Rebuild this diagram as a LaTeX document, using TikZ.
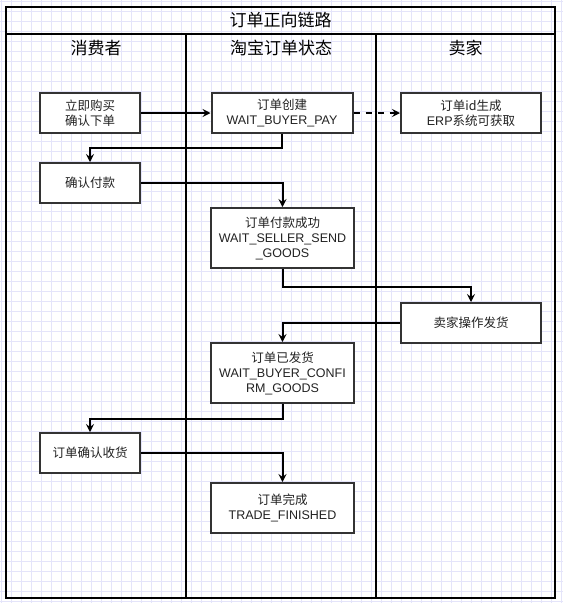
\documentclass[tikz,border=0pt]{standalone}
\usepackage{fontspec}
\setmainfont{Liberation Sans}
\newfontfamily\cjk{Noto Sans CJK SC}
\usetikzlibrary{arrows.meta, positioning, calc}
\definecolor{gridline}{HTML}{E4E4FA}
\definecolor{boxline}{HTML}{333333}
\definecolor{txtgray}{HTML}{222222}
\tikzset{
  pool/.style={draw=black, line width=2.5pt},
  pooltitle/.style={font=\fontsize{17}{20}\selectfont, text=black},
  lanetitle/.style={font=\fontsize{17}{20}\selectfont, text=black},
  stbox/.style={rectangle, draw=boxline, fill=white, line width=2pt,
                minimum width=#1, minimum height=40pt, inner sep=0pt,
                align=center, text=txtgray,
                font=\fontsize{12.5}{15}\selectfont},
  stbox/.default=100pt,
  arr/.style={-{Stealth[length=8pt, width=8pt, inset=3pt]}, line width=2pt, #1},
  arr/.default=black,
}

\begin{document}
\begin{tikzpicture}[x=1pt, y=-1pt]
  \useasboundingbox (0,0) rectangle (563,603);
  % grid paper
  \fill[white] (0,0) rectangle (563,603);
  \foreach \g in {1,11,...,561} \draw[gridline, line width=1pt] (\g,0) -- (\g,603);
  \foreach \g in {1,11,...,601} \draw[gridline, line width=1pt] (0,\g) -- (563,\g);

  % pool and lanes
  \draw[pool] (6,7) rectangle (555,598);
  \draw[pool] (6,34) -- (555,34);
  \draw[pool] (186,34) -- (186,598);
  \draw[pool] (376,34) -- (376,598);
  \node[pooltitle] (title) at (280.5,20.5) {\cjk 订单正向链路};
  \node[lanetitle] (lbuyer) at (96,48) {\cjk 消费者};
  \node[lanetitle] (lstate) at (281,48) {\cjk 淘宝订单状态};
  \node[lanetitle] (lseller) at (465.5,48) {\cjk 卖家};

  % steps
  \node[stbox] (buy) at (90,113) {\cjk 立即购买\\\cjk 确认下单};
  \node[stbox=141pt] (create) at (282,113) {\cjk 订单创建\\WAIT\_BUYER\_PAY};
  \node[stbox=140pt] (erp) at (471,113) {\cjk 订单id生成\\ERP{\cjk 系统可获取}};
  \node[stbox] (pay) at (90,183) {\cjk 确认付款};
  \node[stbox=143pt, minimum height=60pt] (paid) at (282.5,238)
    {\cjk 订单付款成功\\WAIT\_SELLER\_SEND\\\_GOODS};
  \node[stbox=140pt] (ship) at (471,323) {\cjk 卖家操作发货};
  \node[stbox=143pt, minimum height=60pt] (shipped) at (282.5,373)
    {\cjk 订单已发货\\WAIT\_BUYER\_CONFI\\RM\_GOODS};
  \node[stbox] (confirm) at (90,453) {\cjk 订单确认收货};
  \node[stbox=143pt, minimum height=50pt] (done) at (282.5,508)
    {\cjk 订单完成\\TRADE\_FINISHED};

  % flow
  \draw[arr] (buy) -- (create);
  \draw[arr, dash pattern=on 6pt off 6pt] (create) -- (erp);
  \draw[arr] (create.south) -- ++(0,14) -| (pay.north);
  \draw[arr] (pay.east) -| (paid.north);
  \draw[arr] (paid.south) -- ++(0,18) -| (ship.north);
  \draw[arr] (ship.west) -| (shipped.north);
  \draw[arr] (shipped.south) -- ++(0,15) -| (confirm.north);
  \draw[arr] (confirm.east) -| (done.north);
\end{tikzpicture}
\end{document}
